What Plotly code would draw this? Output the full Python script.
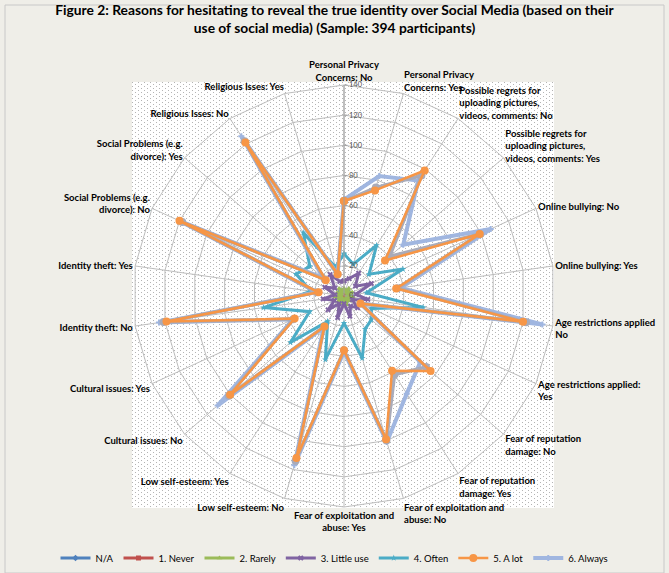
import base64
import plotly.graph_objects as go

# ---------------- data ----------------
categories = [
    "Personal Privacy Concerns: No", "Personal Privacy Concerns: Yes",
    "Possible regrets for uploading pictures, videos, comments: No",
    "Possible regrets for uploading pictures, videos, comments: Yes",
    "Online bullying: No", "Online bullying: Yes",
    "Age restrictions applied No", "Age restrictions applied: Yes",
    "Fear of reputation damage: No", "Fear of reputation damage: Yes",
    "Fear of exploitation and abuse: No", "Fear of exploitation and abuse: Yes",
    "Low self-esteem: No", "Low self-esteem: Yes",
    "Cultural issues: No", "Cultural issues: Yes",
    "Identity theft: No", "Identity theft: Yes",
    "Social Problems (e.g. divorce): No", "Social Problems (e.g. divorce): Yes",
    "Religious Isses: No", "Religious Isses: Yes",
]
tick_labels = [
    "Personal Privacy<br>Concerns: No", "Personal Privacy<br>Concerns: Yes",
    "Possible regrets for<br>uploading pictures,<br>videos, comments: No",
    "Possible regrets for<br>uploading pictures,<br>videos, comments: Yes",
    "Online bullying: No", "Online bullying: Yes",
    "Age restrictions applied<br>No", "Age restrictions applied:<br>Yes",
    "Fear of reputation<br>damage: No", "Fear of reputation<br>damage: Yes",
    "Fear of exploitation and<br>abuse: No", "Fear of exploitation and<br>abuse: Yes",
    "Low self-esteem: No", "Low self-esteem: Yes",
    "Cultural issues: No", "Cultural issues: Yes",
    "Identity theft: No", "Identity theft: Yes",
    "Social Problems (e.g.<br>divorce): No", "Social Problems (e.g.<br>divorce): Yes",
    "Religious Isses: No", "Religious Isses: Yes",
]

na_vals       = [3, 2, 4, 2, 4, 2, 4, 2, 3, 2, 4, 2, 3, 2, 3, 2, 4, 2, 3, 2, 4, 2]
never_vals    = [2, 1, 2, 1, 3, 1, 2, 1, 2, 1, 2, 1, 2, 1, 2, 1, 2, 1, 2, 1, 2, 1]
rarely_vals   = [5, 3, 6, 3, 6, 2, 6, 2, 5, 3, 6, 2, 5, 2, 5, 2, 6, 2, 5, 2, 6, 3]
little_vals   = [10, 12, 18, 10, 20, 8, 16, 6, 12, 8, 14, 5, 15, 6, 14, 7, 14, 6, 14, 8, 17, 10]
often_vals    = [28, 22, 40, 22, 43, 15, 53, 20, 24, 26, 43, 18, 44, 20, 47, 25, 54, 22, 35, 30, 50, 20]
alot_vals     = [63, 73, 99, 36, 99, 35, 120, 12, 76, 59, 99, 36, 112, 24, 100, 36, 119, 17, 120, 16, 121, 15]
always_vals   = [64, 83, 91, 52, 107, 38, 133, 12, 67, 77, 101, 37, 117, 25, 111, 37, 124, 18, 120, 18, 126, 15]
unlabelled_vals = [63, 75, 95, 40, 99, 36, 122, 12, 72, 62, 100, 36, 114, 24, 101, 37, 121, 18, 118, 17, 122, 15]

series = [
    ("N/A", na_vals, "#4F81BD", "diamond", 3),
    ("1. Never", never_vals, "#C0504D", "square", 3),
    ("2. Rarely", rarely_vals, "#9BBB59", "triangle-up", 3),
    ("3. Little use", little_vals, "#8064A2", "x", 3),
    ("4. Often", often_vals, "#4BACC6", "star", 3),
    ("6. Always", always_vals, "#A0B6E0", "cross", 4),
    ("", unlabelled_vals, "#A9ABB9", "circle", 3.5),
    ("5. A lot", alot_vals, "#F79646", "circle", 2.5),
]
legend_rank = {"N/A": 1, "1. Never": 2, "2. Rarely": 3, "3. Little use": 4,
               "4. Often": 5, "5. A lot": 6, "6. Always": 7}

FONT = "Lato"
W, H = 669, 573
cx, cy, R = 344, 296, 211

fig = go.Figure()
for name, vals, color, sym, lw in series:
    th = categories + [categories[0]]
    rr = vals + [vals[0]]
    fig.add_trace(go.Scatterpolar(
        r=rr, theta=th, mode="lines+markers", name=name,
        line=dict(color=color, width=lw),
        marker=dict(color=color, size=8 if sym == "circle" else 5, symbol=sym),
        showlegend=bool(name), legendrank=legend_rank.get(name, 100),
        cliponaxis=False,
    ))

# dotted plot-area background
px0, py0, pw, ph = 132, 82, 422, 426
svg = ('<svg xmlns="http://www.w3.org/2000/svg" width="%d" height="%d" shape-rendering="crispEdges">'
       '<defs><pattern id="p" width="6" height="4" patternUnits="userSpaceOnUse">'
       '<rect width="6" height="4" fill="#ffffff"/>'
       '<rect x="0" y="0" width="1" height="1" fill="#b4b4b4"/>'
       '<rect x="3" y="2" width="1" height="1" fill="#b4b4b4"/>'
       '</pattern></defs><rect width="%d" height="%d" fill="url(#p)"/></svg>') % (pw, ph, pw, ph)
src = "data:image/svg+xml;base64," + base64.b64encode(svg.encode()).decode()

fig.update_layout(
    width=W, height=H, autosize=False,
    margin=dict(l=0, r=0, t=0, b=0),
    paper_bgcolor="#EFEEE8",
    font=dict(family=FONT, color="#000000"),
    title=dict(
        text="<b>Figure 2: Reasons for hesitating to reveal the true identity over Social Media (based on their<br>use of social media) (Sample: 394 participants)</b>",
        x=0.5, xanchor="center", y=1 - 15 / H, yanchor="top",
        font=dict(family=FONT, size=13.8, color="#000000"),
    ),
    polar=dict(
        domain=dict(x=[(cx - R) / W, (cx + R) / W], y=[(H - cy - R) / H, (H - cy + R) / H]),
        bgcolor="rgba(0,0,0,0)",
        gridshape="linear",
        angularaxis=dict(
            type="category", categoryarray=categories,
            rotation=90, direction="clockwise",
            tickmode="array", tickvals=categories,
            ticktext=["<b>%s</b>" % t for t in tick_labels],
            tickfont=dict(family=FONT, size=9.5, color="#000000"),
            showgrid=True, gridcolor="#BEBEBE", gridwidth=1,
            linecolor="#BEBEBE", linewidth=1, ticks="",
        ),
        radialaxis=dict(
            range=[0, 140], dtick=20, tick0=0,
            showgrid=True, gridcolor="#BEBEBE", gridwidth=1,
            showline=True, linecolor="#A0A0A0", linewidth=1,
            ticks="outside", ticklen=3, tickcolor="#A0A0A0",
            tickfont=dict(family=FONT, size=7.5, color="#555555"),
            angle=90, tickangle=90,
        ),
    ),
    legend=dict(
        orientation="h", x=0.5, xanchor="center", y=1 - 558 / H, yanchor="middle",
        font=dict(family=FONT, size=9.5, color="#000000"),
        bgcolor="rgba(0,0,0,0)", itemwidth=30,
    ),
    images=[dict(
        source=src, xref="paper", yref="paper",
        x=px0 / W, y=1 - py0 / H, sizex=pw / W, sizey=ph / H,
        xanchor="left", yanchor="top", sizing="stretch", layer="below",
    )],
    shapes=[dict(
        type="rect", xref="paper", yref="paper", layer="above",
        x0=5 / W, x1=664 / W, y0=0, y1=1 - 5 / H,
        fillcolor="rgba(0,0,0,0)", line=dict(color="#C8C8C8", width=1),
    )],
)

fig.write_html("out.html")
